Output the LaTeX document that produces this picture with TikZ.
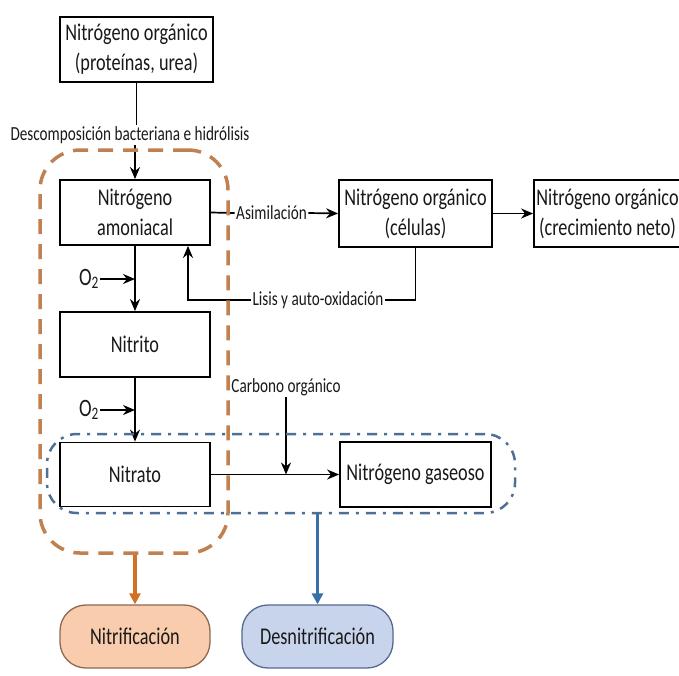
\documentclass[tikz,border=0pt]{standalone}
\usepackage{fontspec}
\setmainfont{Carlito}[FakeStretch=0.76]
\usetikzlibrary{arrows.meta}
\definecolor{txt}{RGB}{25,25,25}
\definecolor{orgdash}{RGB}{192,128,80}
\definecolor{orgarrow}{RGB}{212,112,36}
\definecolor{bluedash}{RGB}{78,112,150}
\definecolor{bluearrow}{RGB}{58,112,170}
\definecolor{orgfill}{RGB}{248,204,172}
\definecolor{orgedge}{RGB}{140,105,80}
\definecolor{bluefill}{RGB}{200,212,236}
\definecolor{blueedge}{RGB}{85,105,145}
\tikzset{
  box/.style={draw=black, line width=1.8pt, fill=white, align=center, text=txt,
    font=\fontsize{24}{30}\selectfont, inner sep=0pt},
  lbl/.style={font=\fontsize{20}{24}\selectfont, inner sep=1.5pt, text=txt},
  olbl/.style={font=\fontsize{25}{28}\selectfont, inner sep=1pt, text=txt},
  arr/.style={-{Stealth[length=12pt,width=10pt]}, line width=1.7pt},
  ln/.style={line width=1.7pt},
  pill/.style={draw, line width=1.3pt, rounded corners=26pt, minimum width=150pt,
    minimum height=63pt, font=\fontsize{24}{28}\selectfont, text=txt},
  ogroup/.style={draw=orgdash, line width=3.5pt, dash pattern=on 15pt off 10pt,
    rounded corners=40pt},
  bgroup/.style={draw=bluedash, line width=2.5pt, dash pattern=on 10pt off 7pt on 3pt off 7pt,
    rounded corners=30pt},
  thickarr/.style={-{Triangle[length=11pt,width=11pt]}, line width=3.5pt},
}
\begin{document}
\begin{tikzpicture}[x=1pt,y=-1pt]
\useasboundingbox (0,0) rectangle (679,675);
% boxes
\node[box, minimum width=153pt, minimum height=65pt] (org) at (136.5,49.5) {Nitrógeno orgánico\\(proteínas, urea)};
\node[box, minimum width=150pt, minimum height=65pt] (amon) at (135,212.5) {Nitrógeno\\amoniacal};
\node[box, minimum width=150pt, minimum height=65pt] (nitrito) at (135,344.5) {Nitrito};
\node[box, minimum width=150pt, minimum height=64pt] (nitrato) at (135,474.5) {Nitrato};
\node[box, minimum width=153pt, minimum height=67pt] (cel) at (415.5,213.5) {Nitrógeno orgánico\\(células)};
\node[box, minimum width=147pt, minimum height=67pt] (crec) at (607.5,213.5) {Nitrógeno orgánico\\(crecimiento neto)};
\node[box, minimum width=151pt, minimum height=65pt] (gas) at (415.5,474.5) {Nitrógeno gaseoso};
% labels
\node[lbl] (desc) at (130,135) {Descomposición bacteriana e hidrólisis};
\node[lbl] (asim) at (271.5,213) {Asimilación};
\node[lbl] (lisis) at (318,300) {Lisis y auto-oxidación};
\node[lbl] (carb) at (286,387) {Carbono orgánico};
\node[olbl] (o2a) at (89,279) {O\textsubscript{2}};
\node[olbl] (o2b) at (89,410) {O\textsubscript{2}};
% connectors
\draw[ln] (org.south) -- (org.south |- desc.north);
\draw[arr] (amon.north |- desc.south) -- (amon.north);
\draw[ln] (amon.east) -- (asim.west);
\draw[arr] (asim.east) -- (cel.west);
\draw[arr] (cel.east) -- (crec.west);
\draw[ln] (cel.south) |- (lisis.east);
\draw[arr] (lisis.west) -| ([xshift=53pt]amon.south);
\draw[arr] (amon.south) -- (nitrito.north);
\draw[arr] (nitrito.south) -- (nitrato.north);
\draw[arr] (o2a.east) -- (o2a.east -| amon.south);
\draw[arr] (o2b.east) -- (o2b.east -| amon.south);
\draw[arr] (nitrato.east) -- (gas.west);
\draw[arr] (carb.south) -- (carb.south |- nitrato.east);
% groups
\node[ogroup, minimum width=188pt, minimum height=403pt] (ngroup) at (134,351.5) {};
\node[bgroup, minimum width=468pt, minimum height=79pt] (dgroup) at (281,473.5) {};
% outcome pills
\node[pill, fill=orgfill, draw=orgedge] (nitrif) at (135,636.5) {Nitrificación};
\node[pill, fill=bluefill, draw=blueedge, minimum width=151pt] (desn) at (317.5,636.5) {Desnitrificación};
\draw[thickarr, draw=orgarrow, fill=orgarrow] (nitrif.north |- ngroup.south) -- (nitrif.north);
\draw[thickarr, draw=bluearrow, fill=bluearrow] (desn.north |- dgroup.south) -- (desn.north);
\end{tikzpicture}
\end{document}
